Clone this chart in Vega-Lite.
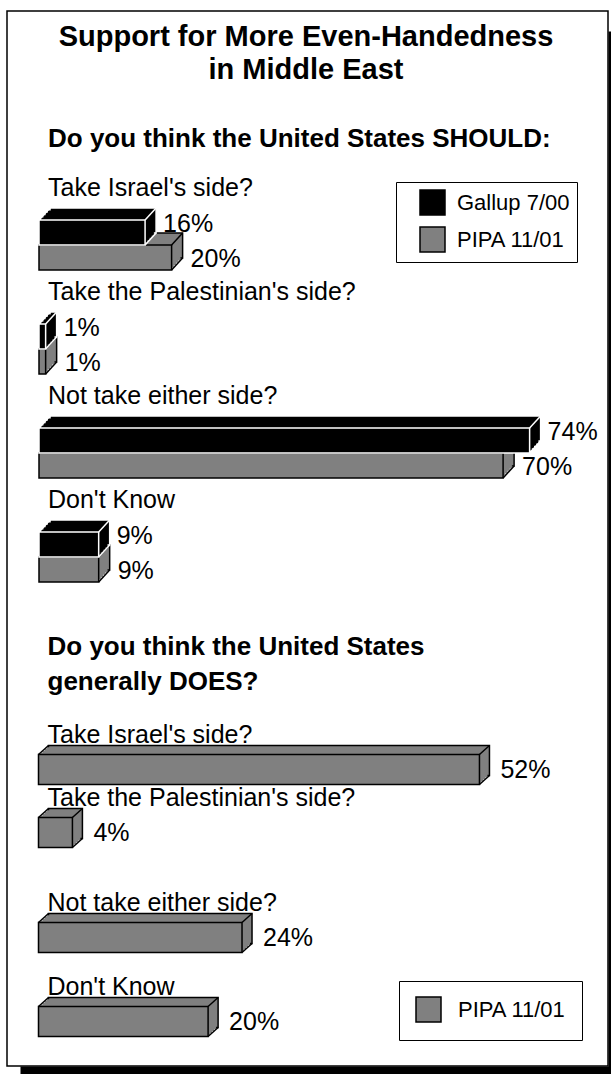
{
  "$schema": "https://vega.github.io/schema/vega-lite/v6.json",
  "width": 601,
  "height": 1055,
  "autosize": {"type": "pad"},
  "padding": {"left": 7, "top": 11, "right": 0, "bottom": 0},
  "background": "white",
  "config": {
    "view": {"stroke": "black", "strokeWidth": 1.5, "fill": "white"},
    "font": "Liberation Sans",
    "text": {"font": "Liberation Sans", "fontSize": 25, "color": "black"},
    "legend": {"symbolType": "square", "symbolSize": 625, "symbolStrokeColor": "black", "symbolStrokeWidth": 1.5, "labelFont": "Liberation Sans", "labelFontSize": 22, "labelColor": "black", "strokeColor": "black", "fillColor": "white", "labelLimit": 300}
  },
  "datasets": {
    "should": [
      {"question": "Take Israel's side?", "poll": "Gallup 7/00", "pct": 0.16},
      {"question": "Take Israel's side?", "poll": "PIPA 11/01", "pct": 0.20},
      {"question": "Take the Palestinian's side?", "poll": "Gallup 7/00", "pct": 0.01},
      {"question": "Take the Palestinian's side?", "poll": "PIPA 11/01", "pct": 0.01},
      {"question": "Not take either side?", "poll": "Gallup 7/00", "pct": 0.74},
      {"question": "Not take either side?", "poll": "PIPA 11/01", "pct": 0.70},
      {"question": "Don't Know", "poll": "Gallup 7/00", "pct": 0.09},
      {"question": "Don't Know", "poll": "PIPA 11/01", "pct": 0.09}
    ],
    "does": [
      {"question": "Take Israel's side?", "poll": "PIPA 11/01", "pct": 0.52},
      {"question": "Take the Palestinian's side?", "poll": "PIPA 11/01", "pct": 0.04},
      {"question": "Not take either side?", "poll": "PIPA 11/01", "pct": 0.24},
      {"question": "Don't Know", "poll": "PIPA 11/01", "pct": 0.20}
    ]
  },
  "layer": [
    {
      "data": {"values": [{}]},
      "mark": {"type": "point", "opacity": 0},
      "encoding": {
        "x": {"datum": 0, "type": "quantitative", "scale": {"domain": [0, 1], "range": [13, 606]}, "axis": {"orient": "bottom", "domain": true, "domainColor": "black", "domainWidth": 8, "offset": 4, "ticks": false, "labels": false, "grid": false, "title": null}},
        "y": {"datum": 0, "type": "quantitative", "scale": {"domain": [0, 1], "range": [1063, 20]}, "axis": {"orient": "right", "domain": true, "domainColor": "black", "domainWidth": 5, "offset": 2.5, "ticks": false, "labels": false, "grid": false, "title": null}}
      }
    },
    {
      "data": {"name": "should"},
      "encoding": {
        "x": {"field": "pct", "type": "quantitative", "scale": {"domain": [-0.04827, 0.85822], "nice": false, "zero": false}, "axis": null},
        "y": {"field": "question", "type": "nominal", "scale": {"domain": ["Take Israel's side?", "Take the Palestinian's side?", "Not take either side?", "Don't Know"], "range": [182, 598], "paddingInner": 0, "paddingOuter": 0}, "axis": null},
        "color": {"field": "poll", "type": "nominal", "scale": {"domain": ["Gallup 7/00", "PIPA 11/01"], "range": ["#000000", "#808080"]},
          "legend": {"orient": "none", "legendX": 389, "legendY": 171, "title": null, "padding": 7, "rowPadding": 6, "symbolOffset": 16, "labelOffset": 11,
            "encode": {"symbols": {"update": {"stroke": {"value": "black"}, "strokeWidth": {"value": 1.5}}}}}}
      },
      "layer": [
        {"transform": [{"filter": {"field": "poll", "equal": "PIPA 11/01"}}],
         "mark": {"type": "bar", "orient": "horizontal", "size": 25, "stroke": "black", "strokeWidth": 1.5, "xOffset": 11, "x2Offset": 11, "yOffset": 0.5, "y2Offset": 0.5},
         "encoding": {"x2": {"datum": 0}}},
        {"transform": [{"filter": {"field": "poll", "equal": "PIPA 11/01"}}],
         "mark": {"type": "bar", "orient": "horizontal", "size": 25, "strokeWidth": 0, "xOffset": 8.8, "x2Offset": 8.8, "yOffset": 2.9, "y2Offset": 2.9},
         "encoding": {"x2": {"datum": 0}}},
        {"transform": [{"filter": {"field": "poll", "equal": "PIPA 11/01"}}],
         "mark": {"type": "bar", "orient": "horizontal", "size": 25, "strokeWidth": 0, "xOffset": 6.6, "x2Offset": 6.6, "yOffset": 5.3, "y2Offset": 5.3},
         "encoding": {"x2": {"datum": 0}}},
        {"transform": [{"filter": {"field": "poll", "equal": "PIPA 11/01"}}],
         "mark": {"type": "bar", "orient": "horizontal", "size": 25, "strokeWidth": 0, "xOffset": 4.4, "x2Offset": 4.4, "yOffset": 7.7, "y2Offset": 7.7},
         "encoding": {"x2": {"datum": 0}}},
        {"transform": [{"filter": {"field": "poll", "equal": "PIPA 11/01"}}],
         "mark": {"type": "bar", "orient": "horizontal", "size": 25, "strokeWidth": 0, "xOffset": 2.2, "x2Offset": 2.2, "yOffset": 10.1, "y2Offset": 10.1},
         "encoding": {"x2": {"datum": 0}}},
        {"transform": [{"filter": {"field": "poll", "equal": "PIPA 11/01"}}],
         "mark": {"type": "bar", "orient": "horizontal", "size": 25, "stroke": "black", "strokeWidth": 1.5, "yOffset": 12.5, "y2Offset": 12.5},
         "encoding": {"x2": {"datum": 0}}},
        {"transform": [{"filter": {"field": "poll", "equal": "PIPA 11/01"}}],
         "mark": {"type": "rule", "strokeWidth": 1.5, "x2Offset": 11, "yOffset": 0, "y2Offset": -12},
         "encoding": {"x": {"datum": 0, "type": "quantitative"}, "x2": {"datum": 0}, "y2": {"field": "question"}, "color": {"value": "black"}}},
        {"transform": [{"filter": {"field": "poll", "equal": "PIPA 11/01"}}],
         "mark": {"type": "rule", "strokeWidth": 1.5, "x2Offset": 11, "yOffset": 0, "y2Offset": -12},
         "encoding": {"x2": {"field": "pct"}, "y2": {"field": "question"}, "color": {"value": "black"}}},
        {"transform": [{"filter": {"field": "poll", "equal": "PIPA 11/01"}}],
         "mark": {"type": "rule", "strokeWidth": 1.5, "x2Offset": 11, "yOffset": 25, "y2Offset": 13},
         "encoding": {"x2": {"field": "pct"}, "y2": {"field": "question"}, "color": {"value": "black"}}},

        {"transform": [{"filter": {"field": "poll", "equal": "Gallup 7/00"}}],
         "mark": {"type": "bar", "orient": "horizontal", "size": 25, "stroke": "white", "strokeWidth": 1.5, "xOffset": 11, "x2Offset": 11, "yOffset": -24.5, "y2Offset": -24.5},
         "encoding": {"x2": {"datum": 0}}},
        {"transform": [{"filter": {"field": "poll", "equal": "Gallup 7/00"}}],
         "mark": {"type": "bar", "orient": "horizontal", "size": 25, "strokeWidth": 0, "xOffset": 8.8, "x2Offset": 8.8, "yOffset": -22.1, "y2Offset": -22.1},
         "encoding": {"x2": {"datum": 0}}},
        {"transform": [{"filter": {"field": "poll", "equal": "Gallup 7/00"}}],
         "mark": {"type": "bar", "orient": "horizontal", "size": 25, "strokeWidth": 0, "xOffset": 6.6, "x2Offset": 6.6, "yOffset": -19.7, "y2Offset": -19.7},
         "encoding": {"x2": {"datum": 0}}},
        {"transform": [{"filter": {"field": "poll", "equal": "Gallup 7/00"}}],
         "mark": {"type": "bar", "orient": "horizontal", "size": 25, "strokeWidth": 0, "xOffset": 4.4, "x2Offset": 4.4, "yOffset": -17.3, "y2Offset": -17.3},
         "encoding": {"x2": {"datum": 0}}},
        {"transform": [{"filter": {"field": "poll", "equal": "Gallup 7/00"}}],
         "mark": {"type": "bar", "orient": "horizontal", "size": 25, "strokeWidth": 0, "xOffset": 2.2, "x2Offset": 2.2, "yOffset": -14.9, "y2Offset": -14.9},
         "encoding": {"x2": {"datum": 0}}},
        {"transform": [{"filter": {"field": "poll", "equal": "Gallup 7/00"}}],
         "mark": {"type": "bar", "orient": "horizontal", "size": 25, "stroke": "white", "strokeWidth": 1.5, "yOffset": -12.5, "y2Offset": -12.5},
         "encoding": {"x2": {"datum": 0}}},
        {"transform": [{"filter": {"field": "poll", "equal": "Gallup 7/00"}}],
         "mark": {"type": "rule", "strokeWidth": 1.5, "x2Offset": 11, "yOffset": -25, "y2Offset": -37},
         "encoding": {"x": {"datum": 0, "type": "quantitative"}, "x2": {"datum": 0}, "y2": {"field": "question"}, "color": {"value": "white"}}},
        {"transform": [{"filter": {"field": "poll", "equal": "Gallup 7/00"}}],
         "mark": {"type": "rule", "strokeWidth": 1.5, "x2Offset": 11, "yOffset": -25, "y2Offset": -37},
         "encoding": {"x2": {"field": "pct"}, "y2": {"field": "question"}, "color": {"value": "white"}}},
        {"transform": [{"filter": {"field": "poll", "equal": "Gallup 7/00"}}],
         "mark": {"type": "rule", "strokeWidth": 1.5, "x2Offset": 11, "yOffset": 0, "y2Offset": -12},
         "encoding": {"x2": {"field": "pct"}, "y2": {"field": "question"}, "color": {"value": "white"}}},

        {"transform": [{"filter": {"field": "poll", "equal": "PIPA 11/01"}}],
         "mark": {"type": "text", "align": "left", "baseline": "middle", "dx": 19, "dy": 14, "fontSize": 25},
         "encoding": {"text": {"field": "pct", "format": ".0%"}, "color": {"value": "black"}}},
        {"transform": [{"filter": {"field": "poll", "equal": "Gallup 7/00"}}],
         "mark": {"type": "text", "align": "left", "baseline": "middle", "dx": 18, "dy": -21, "fontSize": 25},
         "encoding": {"text": {"field": "pct", "format": ".0%"}, "color": {"value": "black"}}},
        {"transform": [{"filter": {"field": "poll", "equal": "PIPA 11/01"}}],
         "mark": {"type": "text", "align": "left", "baseline": "alphabetic", "dx": 9, "dy": -49, "fontSize": 25},
         "encoding": {"x": {"datum": 0, "type": "quantitative"}, "text": {"field": "question"}, "color": {"value": "black"}}},
        {"transform": [{"filter": {"field": "poll", "equal": "PIPA 11/01"}}, {"filter": {"field": "question", "equal": "Take Israel's side?"}}],
         "mark": {"type": "text", "align": "left", "baseline": "alphabetic", "dx": 9, "dy": -98, "fontSize": 26, "fontWeight": "bold"},
         "encoding": {"x": {"datum": 0, "type": "quantitative"}, "text": {"value": "Do you think the United States SHOULD:"}, "color": {"value": "black"}}},
        {"transform": [{"filter": {"field": "poll", "equal": "PIPA 11/01"}}, {"filter": {"field": "question", "equal": "Take Israel's side?"}}],
         "mark": {"type": "text", "align": "center", "baseline": "alphabetic", "dy": -199, "lineHeight": 33, "fontSize": 29, "fontWeight": "bold"},
         "encoding": {"x": {"datum": 0.4027, "type": "quantitative"}, "text": {"value": ["Support for More Even-Handedness", "in Middle East"]}, "color": {"value": "black"}}}
      ]
    },
    {
      "data": {"name": "does"},
      "encoding": {
        "x": {"field": "pct", "type": "quantitative", "scale": {"domain": [-0.037146, 0.67158], "nice": false, "zero": false}, "axis": null},
        "y": {"field": "question", "type": "nominal", "scale": {"domain": ["Take Israel's side?", " a", " b", "Take the Palestinian's side?", " c", " d", " e", " f", "Not take either side?", " g", " h", " i", "Don't Know"], "range": [748, 1021], "paddingInner": 0, "paddingOuter": 0}, "axis": null},
        "color": {"field": "poll", "type": "nominal", "scale": {"domain": ["PIPA 11/01"], "range": ["#808080"]},
          "legend": {"orient": "none", "legendX": 392, "legendY": 970, "title": null, "padding": 15, "symbolOffset": 1, "labelOffset": 16,
            "encode": {"symbols": {"update": {"stroke": {"value": "black"}, "strokeWidth": {"value": 1.5}}}}}}
      },
      "layer": [
        {"mark": {"type": "bar", "orient": "horizontal", "size": 30, "stroke": "black", "strokeWidth": 1.5, "xOffset": 10, "x2Offset": 10, "yOffset": -9, "y2Offset": -9},
         "encoding": {"x2": {"datum": 0}}},
        {"mark": {"type": "bar", "orient": "horizontal", "size": 30, "strokeWidth": 0, "xOffset": 8, "x2Offset": 8, "yOffset": -7.2, "y2Offset": -7.2},
         "encoding": {"x2": {"datum": 0}}},
        {"mark": {"type": "bar", "orient": "horizontal", "size": 30, "strokeWidth": 0, "xOffset": 6, "x2Offset": 6, "yOffset": -5.4, "y2Offset": -5.4},
         "encoding": {"x2": {"datum": 0}}},
        {"mark": {"type": "bar", "orient": "horizontal", "size": 30, "strokeWidth": 0, "xOffset": 4, "x2Offset": 4, "yOffset": -3.6, "y2Offset": -3.6},
         "encoding": {"x2": {"datum": 0}}},
        {"mark": {"type": "bar", "orient": "horizontal", "size": 30, "strokeWidth": 0, "xOffset": 2, "x2Offset": 2, "yOffset": -1.8, "y2Offset": -1.8},
         "encoding": {"x2": {"datum": 0}}},
        {"mark": {"type": "bar", "orient": "horizontal", "size": 30, "stroke": "black", "strokeWidth": 1.5},
         "encoding": {"x2": {"datum": 0}}},
        {"mark": {"type": "rule", "strokeWidth": 1.5, "x2Offset": 10, "yOffset": -15, "y2Offset": -24},
         "encoding": {"x": {"datum": 0, "type": "quantitative"}, "x2": {"datum": 0}, "y2": {"field": "question"}, "color": {"value": "black"}}},
        {"mark": {"type": "rule", "strokeWidth": 1.5, "x2Offset": 10, "yOffset": -15, "y2Offset": -24},
         "encoding": {"x2": {"field": "pct"}, "y2": {"field": "question"}, "color": {"value": "black"}}},
        {"mark": {"type": "rule", "strokeWidth": 1.5, "x2Offset": 10, "yOffset": 15, "y2Offset": 6},
         "encoding": {"x2": {"field": "pct"}, "y2": {"field": "question"}, "color": {"value": "black"}}},
        {"mark": {"type": "text", "align": "left", "baseline": "middle", "dx": 21, "dy": 0, "fontSize": 25},
         "encoding": {"text": {"field": "pct", "format": ".0%"}, "color": {"value": "black"}}},
        {"mark": {"type": "text", "align": "left", "baseline": "alphabetic", "dx": 9, "dy": -27, "fontSize": 25},
         "encoding": {"x": {"datum": 0, "type": "quantitative"}, "text": {"field": "question"}, "color": {"value": "black"}}},
        {"transform": [{"filter": {"field": "question", "equal": "Take Israel's side?"}}],
         "mark": {"type": "text", "align": "left", "baseline": "alphabetic", "dx": 9, "dy": -114.5, "lineHeight": 35, "fontSize": 26, "fontWeight": "bold"},
         "encoding": {"x": {"datum": 0, "type": "quantitative"}, "text": {"value": ["Do you think the United States", "generally DOES?"]}, "color": {"value": "black"}}}
      ]
    }
  ],
  "resolve": {"scale": {"x": "independent", "y": "independent", "color": "independent"}}
}
